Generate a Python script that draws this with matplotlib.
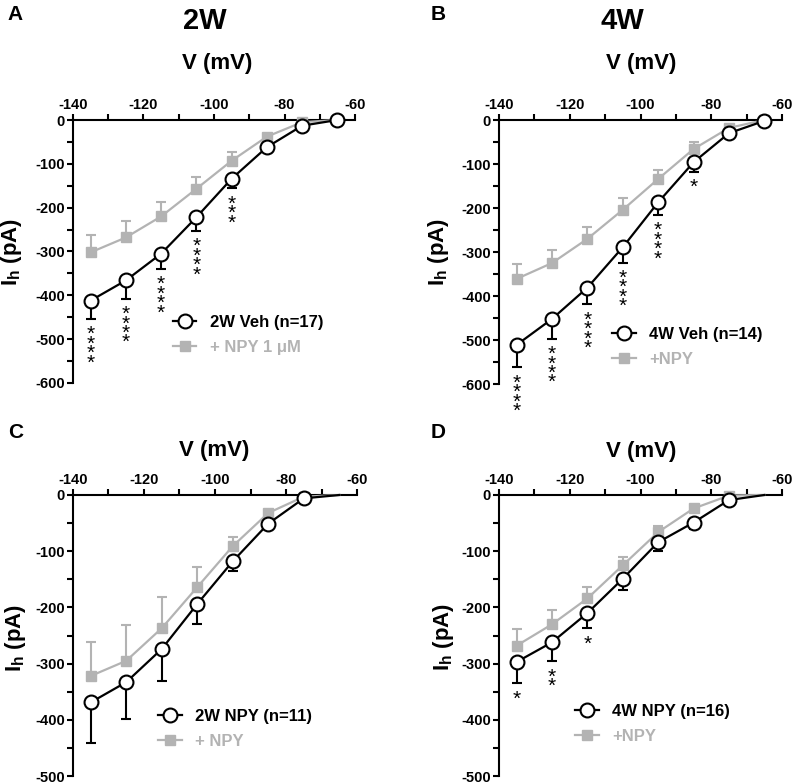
"""
Ih–V curves, 4 panels (A: 2W Veh, B: 4W Veh, C: 2W NPY, D: 4W NPY), each ± NPY.
"""
import matplotlib
matplotlib.use("Agg")
import matplotlib.pyplot as plt
from matplotlib.ticker import MultipleLocator

plt.rcParams["font.family"] = ["Liberation Sans", "DejaVu Sans"]
plt.rcParams["font.weight"] = "bold"
plt.rcParams["axes.unicode_minus"] = False
plt.rcParams["mathtext.fontset"] = "custom"
plt.rcParams["mathtext.bf"] = "Liberation Sans:bold"
plt.rcParams["mathtext.rm"] = "Liberation Sans:bold"

GRAY = "#b3b3b3"

V = [-135, -125, -115, -105, -95, -85, -75, -65]

# panel A: 2W Veh
a_ctl = [-412, -366, -305, -222, -134, -62, -13, 0]
a_ctl_sem = [42, 42, 35, 31, 22, 5, 3, 0]
a_npy = [-302, -268, -220, -157, -93, -38, -5, 0]
a_npy_sem = [40, 38, 34, 28, 19, 6, 3, 0]
a_stars = ["****", "****", "****", "****", "***", "", "", ""]

# panel B: 4W Veh
b_ctl = [-511, -452, -381, -289, -187, -96, -30, -2]
b_ctl_sem = [51, 45, 38, 35, 29, 22, 5, 0]
b_npy = [-361, -325, -270, -204, -134, -66, -18, 0]
b_npy_sem = [33, 30, 26, 26, 20, 15, 5, 0]
b_stars = ["****", "****", "****", "****", "****", "*", "", ""]

# panel C: 2W NPY
c_ctl = [-369, -333, -274, -194, -118, -51, -6, 0]
c_ctl_sem = [73, 66, 57, 36, 18, 8, 3, 0]
c_npy = [-322, -295, -237, -164, -91, -32, -3, 0]
c_npy_sem = [61, 64, 56, 35, 16, 5, 2, 0]
c_stars = ["", "", "", "", "", "", "", ""]

# panel D: 4W NPY
d_ctl = [-297, -262, -210, -149, -84, -49, -9, 0]
d_ctl_sem = [38, 34, 27, 20, 15, 12, 3, 0]
d_npy = [-268, -230, -184, -125, -66, -24, -1, 0]
d_npy_sem = [30, 25, 20, 15, 10, 5, 2, 0]
d_stars = ["*", "**", "*", "", "", "", "", ""]

W, H = 793, 784


def fx(px):
    return px / W


def fy(py):
    return 1 - py / H


def _panel(rect, ctl, ctl_sem, npy, npy_sem, stars, labels, ymin, n_mark, leg_xy):
    ax = fig.add_axes(rect)
    idx = [i for i in range(len(V)) if ctl_sem[i] > 0]
    ax.errorbar([V[i] for i in idx], [npy[i] for i in idx],
                yerr=[[0] * len(idx), [npy_sem[i] for i in idx]],
                fmt="none", ecolor=GRAY, elinewidth=1.5, capsize=3.5, capthick=1.5,
                zorder=2, clip_on=False)
    ax.errorbar([V[i] for i in idx], [ctl[i] for i in idx],
                yerr=[[ctl_sem[i] for i in idx], [0] * len(idx)],
                fmt="none", ecolor="black", elinewidth=1.5, capsize=3.5, capthick=1.5,
                zorder=3, clip_on=False)
    h2, = ax.plot(V, npy, color=GRAY, lw=1.6, marker="s", ms=7.5, mec=GRAY,
                  mfc=GRAY, markevery=list(range(n_mark)), zorder=4, clip_on=False)
    h1, = ax.plot(V, ctl, color="black", lw=1.6, marker="o", ms=10, mec="black",
                  mew=1.5, mfc="white", markevery=list(range(n_mark)), zorder=5,
                  clip_on=False)
    for v, m, s, st in zip(V, ctl, ctl_sem, stars):
        if st:
            ax.annotate("\n".join(st), (v, m - s), xytext=(0, -4.5),
                        textcoords="offset points", ha="center", va="top",
                        fontsize=15, fontweight="normal", linespacing=0.36,
                        annotation_clip=False)
    ax.set_xlim(-140, -60)
    ax.set_ylim(ymin, 0)
    ax.xaxis.tick_top()
    ax.set_xticks(range(-140, -59, 20))
    ax.xaxis.set_minor_locator(MultipleLocator(10))
    ax.yaxis.set_major_locator(MultipleLocator(100))
    ax.yaxis.set_minor_locator(MultipleLocator(50))
    for s in ("right", "bottom"):
        ax.spines[s].set_visible(False)
    for s in ("left", "top"):
        ax.spines[s].set_linewidth(1.5)
    ax.tick_params(which="both", width=1.5, length=4.5, labelsize=10.5, pad=1.5)
    for lbl in ax.get_xticklabels() + ax.get_yticklabels():
        lbl.set_fontweight("bold")
    ax.patch.set_alpha(0)
    ax.legend([h1, h2], labels, loc="center left", bbox_to_anchor=leg_xy,
              frameon=False, numpoints=1, handlelength=1.4, handletextpad=0.8,
              labelspacing=0.6, borderpad=0, borderaxespad=0,
              prop={"size": 12, "weight": "bold"}, labelcolor=["black", GRAY])
    return ax


fig = plt.figure(figsize=(W / 100, H / 100), dpi=100)

_panel([fx(73), fy(383), fx(355) - fx(73), fy(120) - fy(383)],
       a_ctl, a_ctl_sem, a_npy, a_npy_sem, a_stars,
       ["2W Veh (n=17)", "+ NPY 1 \u03bcM"], -600, 8, (0.355, 0.182))
_panel([fx(499), fy(384), fx(782) - fx(499), fy(120) - fy(384)],
       b_ctl, b_ctl_sem, b_npy, b_npy_sem, b_stars,
       ["4W Veh (n=14)", "+NPY"], -600, 8, (0.40, 0.14))
_panel([fx(73), fy(776), fx(357) - fx(73), fy(495) - fy(776)],
       c_ctl, c_ctl_sem, c_npy, c_npy_sem, c_stars,
       ["2W NPY (n=11)", "+ NPY"], -500, 7, (0.30, 0.168))
_panel([fx(499), fy(776), fx(782) - fx(499), fy(495) - fy(776)],
       d_ctl, d_ctl_sem, d_npy, d_npy_sem, d_stars,
       ["4W NPY (n=16)", "+NPY"], -500, 7, (0.27, 0.184))

# titles, panel letters, axis labels
for x, y, t in [(205, 21, "2W"), (622, 21, "4W")]:
    fig.text(fx(x), fy(y), t, ha="center", va="center", fontsize=21, fontweight="bold")
for x, y, t in [(15, 14, "A"), (438, 14, "B"), (16, 433, "C"), (438, 433, "D")]:
    fig.text(fx(x), fy(y), t, ha="center", va="center", fontsize=15, fontweight="bold")
for x, y in [(217, 63), (641, 63), (214, 450), (641, 452)]:
    fig.text(fx(x), fy(y), "V (mV)", ha="center", va="center", fontsize=16,
             fontweight="bold")
for x, y in [(12, 252), (439, 252), (15, 638), (444, 637)]:
    fig.text(fx(x), fy(y), r"$\mathbf{I_h}$ (pA)", ha="center", va="center",
             rotation=90, fontsize=16, fontweight="bold")

fig.savefig("out.png", dpi=100)
